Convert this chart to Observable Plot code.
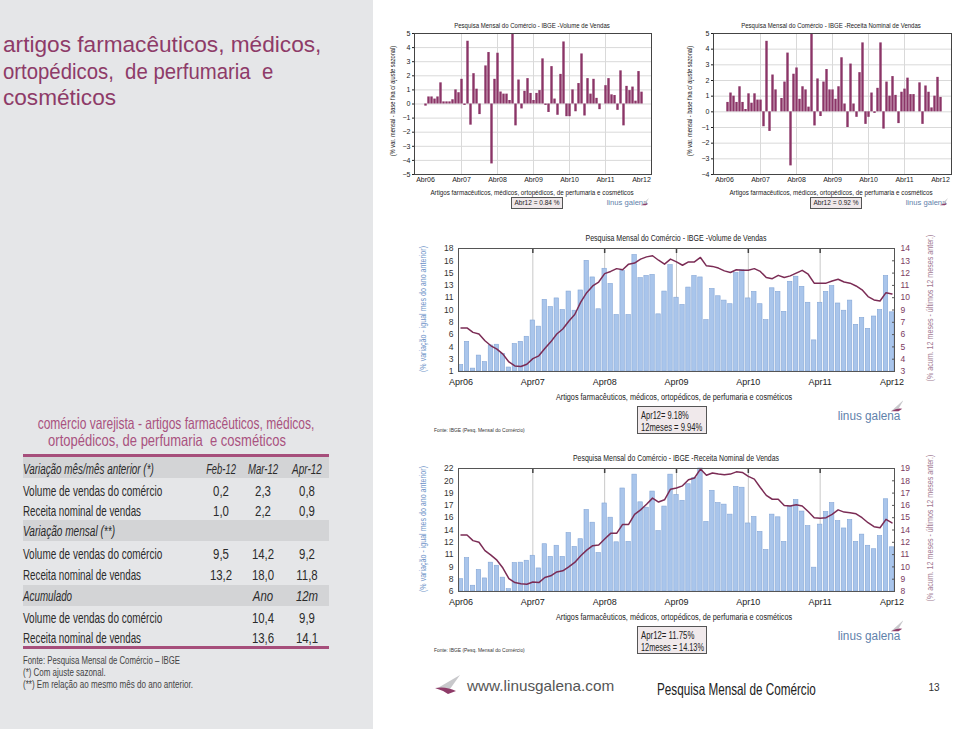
<!DOCTYPE html>
<html lang="pt"><head><meta charset="utf-8">
<script src="https://cdn.jsdelivr.net/npm/d3@7"></script>
<script src="https://cdn.jsdelivr.net/npm/@observablehq/plot@0.6"></script>
<style>
html,body{margin:0;padding:0;background:#fff;}
#page{position:relative;width:959px;height:729px;overflow:hidden;background:#fff;font-family:"Liberation Sans",Arial,sans-serif;}
#panel{position:absolute;left:0;top:0;width:373px;height:729px;background:#e5e6e8;}
.t{position:absolute;white-space:pre;line-height:1;}
.chart{position:absolute;}
.rect{position:absolute;box-sizing:border-box;}
</style></head><body><div id="page"><div id="panel"></div></div>
<script>
// ---------- DATA ----------
const mesesPt = ["Jan","Fev","Mar","Abr","Mai","Jun","Jul","Ago","Set","Out","Nov","Dez"];
const mesesEn = ["Jan","Feb","Mar","Apr","May","Jun","Jul","Aug","Sep","Oct","Nov","Dec"];
const startYear = 2006, startMonth = 3, nMonths = 73; // Apr 2006 .. Apr 2012
const xTicksPt = ["Abr06","Abr07","Abr08","Abr09","Abr10","Abr11","Abr12"];
const xTicksEn = ["Apr06","Apr07","Apr08","Apr09","Apr10","Apr11","Apr12"];

// month-on-month, seasonally adjusted (% var. mensal)
const volMoM = [-0.15,0.5,0.5,0.35,0.5,1.5,0.15,0.15,0.15,0.3,1.0,0.8,1.75,-0.1,4.45,-1.5,2.15,1.05,-0.75,0,
  2.7,3.65,-4.25,1.75,3.6,0.85,0.7,0.7,0.25,5.0,-1.55,1.7,-0.35,0.9,1.8,0.75,0.25,0.75,0.95,3.2,
  -0.1,-0.6,2.65,0.35,-0.8,2.1,4.4,-0.9,-0.9,1.0,-0.55,1.45,3.55,-0.85,1.8,0.7,1.75,0.4,-0.4,0,
  1.3,1.8,0.65,0.6,-0.45,2.35,-1.55,1.25,0.95,1.2,0.2,2.3,0.84];
const recMoM = [null,0.6,1.2,1.0,0.6,1.6,0.6,0.15,1.15,0.55,1.15,0.75,0.75,-0.95,4.5,-1.25,2.35,1.4,0,0.85,
  1.9,3.75,-3.45,2.4,2.8,0.8,1.6,1.4,0.3,5.0,-0.9,2.1,-0.3,1.9,2.7,1.4,1.4,0.8,1.6,3.45,
  0.5,-1.0,3.05,0.5,-0.35,2.5,4.4,-0.8,-0.35,1.2,-0.1,1.5,4.4,-1.1,1.9,1.0,2.25,1.05,-0.75,1.25,
  1.45,2.15,1.1,1.1,0,1.85,-0.8,1.65,1.25,0.25,1.0,2.2,0.92];
// year-on-year (bars) and 12-month accumulated (line)
const volYoY = [1.9,5.1,1.4,3.2,2.3,4.6,4.7,3.4,1.55,4.8,5.1,5.8,8.05,7.2,10.9,9.9,11.1,9.5,12.05,9.4,
  12.2,16.3,14.0,9.6,15.2,13.1,8.8,14.9,8.8,17.1,13.9,14.2,14.35,8.9,12.05,15.7,11.2,10.2,12.6,14.2,
  14.0,8.1,12.4,11.4,10.8,10.3,14.6,15.0,11.1,12.0,10.3,8.1,12.5,12.0,9.25,13.4,14.1,12.7,10.5,5.3,
  10.5,12.0,12.8,10.4,9.4,10.8,7.45,8.4,6.9,8.6,9.5,14.2,9.18];
const vol12m = [6.9,6.9,6.5,6.35,5.75,5.3,5.0,4.55,3.85,3.5,3.45,3.65,4.15,4.4,5.05,5.65,6.35,6.8,7.5,8.1,
  9.2,10.05,10.65,11.0,11.75,11.95,12.2,12.1,12.6,12.7,13.05,13.25,13.35,12.95,12.6,13.05,12.8,12.5,12.8,12.8,
  13.2,12.45,12.4,12.25,12.0,11.85,12.1,12.05,12.05,12.2,11.95,11.4,11.3,11.6,11.4,11.55,11.8,12.05,11.7,10.9,
  10.9,10.9,11.1,11.25,11.0,10.9,10.65,10.3,9.7,9.4,9.3,10.05,9.94];
const recYoY = [7.6,10.35,6.75,8.8,7.7,9.75,9.35,7.8,6.3,9.7,9.75,10.0,10.65,9.0,12.15,10.5,11.95,10.5,13.6,11.8,
  12.8,16.6,14.95,11.0,17.45,15.6,12.4,19.4,12.45,21.2,17.6,16.9,19.0,13.85,17.05,21.2,18.55,17.8,19.95,20.75,
  22.0,15.05,19.1,17.5,17.3,16.0,19.6,19.5,14.85,15.7,13.75,11.4,16.0,15.65,12.45,17.05,17.9,16.4,14.5,9.1,
  14.7,16.35,17.5,15.15,14.2,15.3,12.45,13.4,11.95,11.5,13.2,18.0,11.75];
const rec12m = [13.05,13.05,12.55,12.4,11.65,11.25,10.8,10.1,9.15,8.8,8.7,8.65,8.85,8.8,9.25,9.4,9.75,9.85,10.2,10.6,
  11.2,11.7,12.1,12.15,12.7,13.2,13.2,14.0,14.0,14.9,15.3,15.8,16.35,16.0,16.2,17.15,17.25,17.45,18.0,18.15,
  18.95,18.4,18.6,18.5,18.45,18.5,18.7,18.65,18.3,18.05,17.3,16.6,16.25,16.25,15.7,15.65,15.75,15.65,15.15,14.6,
  14.55,14.6,14.9,15.3,15.1,15.05,14.95,14.6,14.15,13.8,13.7,14.45,14.13];

const topYTicks1 = [-5,-4,-3,-2,-1,0,1,2,3,4,5];
const topYTicks2 = [-4,-3,-2,-1,0,1,2,3,4,5];
const volLeftTicks = [1,2.7,4.4,6.1,7.8,9.5,11.2,12.9,14.6,16.3,18];
const volRightTicks = [3,4.1,5.2,6.3,7.4,8.5,9.6,10.7,11.8,12.9,14];
const recLeftTicks = [6,7.6,9.2,10.8,12.4,14,15.6,17.2,18.8,20.4,22];
const recRightTicks = [8,9.1,10.2,11.3,12.4,13.5,14.6,15.7,16.8,17.9,19];

// table
const tableCols = ["Feb-12","Mar-12","Apr-12"];
const rowVol = "Volume de vendas do comércio", rowRec = "Receita nominal de vendas";
const momVol = ["0,2","2,3","0,8"], momRec = ["1,0","2,2","0,9"];
const yoyVol = ["9,5","14,2","9,2"], yoyRec = ["13,2","18,0","11,8"];
const accCols = ["Ano","12m"], accVol = ["10,4","9,9"], accRec = ["13,6","14,1"];

// ---------- helpers ----------
const monthKey = (names, i) => names[(startMonth + i) % 12] + String((startYear + Math.floor((startMonth + i) / 12)) % 100).padStart(2, "0");
const keysPt = d3.range(nMonths).map(i => monthKey(mesesPt, i));
const keysEn = d3.range(nMonths).map(i => monthKey(mesesEn, i));
const page = document.getElementById("page");
// text: x,y = anchor point / vertical centre; o.w = target width (horizontal squeeze), o.narrow = default squeeze
function T(x, y, s, o = {}) {
  const d = document.createElement("div");
  d.className = "t";
  d.textContent = s;
  d.style.left = x + "px"; d.style.top = y + "px";
  d.style.fontSize = (o.size || 10) + "px";
  d.style.color = o.color || "#222";
  if (o.italic) d.style.fontStyle = "italic";
  if (o.weight) d.style.fontWeight = o.weight;
  page.appendChild(d);
  let sx = o.narrow ? 0.76 : 1;
  if (o.w) sx = o.w / d.offsetWidth;
  const ax = o.anchor === "start" ? "0" : o.anchor === "end" ? "-100%" : "-50%";
  d.style.transformOrigin = o.anchor === "start" ? "0 50%" : o.anchor === "end" ? "100% 50%" : "50% 50%";
  d.style.transform = `translate(${ax},-50%)` + (o.rotate ? ` rotate(${o.rotate}deg)` : "") + ` scaleX(${sx})`;
  return d;
}
function R(x, y, w, h, bg, border) {
  const d = document.createElement("div");
  d.className = "rect";
  Object.assign(d.style, {left: x + "px", top: y + "px", width: w + "px", height: h + "px", background: bg || "transparent"});
  if (border) d.style.border = border;
  page.appendChild(d);
  return d;
}
function place(svg, x, y, w) {
  const d = document.createElement("div");
  d.className = "chart";
  Object.assign(d.style, {left: x + "px", top: y + "px", width: w + "px"});
  d.appendChild(svg);
  page.appendChild(d);
}
function logo(cx, cy, size, w) {
  T(cx, cy, "linus galena", {size, color: "#5f82ab", w});
  const d = document.createElement("div");
  d.className = "rect";
  const s = size * 1.0;
  Object.assign(d.style, {left: (cx + w / 2 - s * 0.8) + "px", top: (cy - size * 1.4) + "px", width: s + "px", height: s + "px"});
  d.innerHTML = `<svg width="${s}" height="${s}" viewBox="0 0 10 10"><path d="M0,9 L10,0 L6,7 Z" fill="#c9c9cc"/><path d="M0,9 Q5,6 9,7 L6,9 Z" fill="#8e3b68"/></svg>`;
  page.appendChild(d);
}

// ---------- top-left title ----------
const titleLines = ["artigos farmacêuticos, médicos,", "ortopédicos,  de perfumaria  e", "cosméticos"];
const titleW = [318, 270, 113];
titleLines.forEach((s, i) => T(3, 45 + i * 26.5, s, {size: 22, color: "#8e3b68", anchor: "start", w: titleW[i]}));

// ---------- top small charts ----------
function topChart(values, yTicks, left, width, mL, mR) {
  const data = values.map((v, i) => ({k: keysPt[i], v})).filter(d => d.v != null);
  return place(Plot.plot({
    width, height: 175, marginLeft: mL, marginRight: mR, marginTop: 15, marginBottom: 19,
    x: {type: "point", domain: keysPt, padding: 0},
    y: {domain: [yTicks[0], yTicks[yTicks.length - 1]]},
    style: {fontFamily: "Liberation Sans, Arial, sans-serif", fontSize: "7px", color: "#222", background: "transparent"},
    marks: [
      Plot.gridY(yTicks, {stroke: "#d9d9d9", strokeOpacity: 1}),
      Plot.gridX(xTicksPt.slice(1, -1), {stroke: "#d9d9d9", strokeOpacity: 1}),
      Plot.ruleX(data, {x: "k", y1: 0, y2: "v", stroke: "#8b3567", strokeWidth: 2.4}),
      Plot.frame({stroke: "#444"}),
      Plot.axisY(yTicks, {tickSize: 2, tickPadding: 2, label: null, fontSize: 7}),
      Plot.axisX(xTicksPt, {tickSize: 0, tickPadding: 3, label: null, fontSize: 7})
    ]
  }), left, 18, width);
}
topChart(volMoM, topYTicks1, 375, 290, 39, 14);
topChart(recMoM, topYTicks2, 665, 294, 48, 8);

const xTitle = "Artigos farmacêuticos, médicos, ortopédicos, de perfumaria e cosméticos";
const yTitleTop = "(% var. mensal - base fixa c/ ajuste sazonal)";
[[532, 393, "Pesquisa Mensal do Comércio - IBGE -Volume de Vendas", volMoM, 156],
 [831, 690, "Pesquisa Mensal do Comércio - IBGE -Receita Nominal de Vendas", recMoM, 180]]
  .forEach(([cx, ly, title, vals, tw]) => {
    T(cx, 25, title, {size: 7, w: tw});
    T(ly, 101, yTitleTop, {size: 6.5, rotate: -90, w: 110});
    T(cx, 192, xTitle, {size: 7, w: 203});
    R(cx - 21, 197, 52, 12, "#efe8ea", "1px solid #555");
    T(cx + 5, 203, `Abr12 = ${vals[vals.length - 1].toFixed(2)} %`, {size: 6.8, w: 45});
    logo(cx + 95, 203, 8, 41);
  });

// ---------- middle / bottom charts ----------
function midChart(bars, line, leftTicks, rightTicks, top) {
  const data = bars.map((v, i) => ({k: keysEn[i], v, c: line[i]}));
  const common = {width: 520, height: 165, marginLeft: 48, marginRight: 36, marginTop: 20, marginBottom: 22,
    x: {type: "band", domain: keysEn, paddingInner: 0.26, paddingOuter: 0.05}};
  place(Plot.plot({
    ...common,
    y: {domain: [leftTicks[0], leftTicks[leftTicks.length - 1]]},
    style: {fontFamily: "Liberation Sans, Arial, sans-serif", fontSize: "8.5px", color: "#333", background: "transparent"},
    marks: [
      Plot.gridX(xTicksEn.slice(1, -1), {stroke: "#c8c8c8", strokeOpacity: 1}),
      Plot.barY(data, {x: "k", y1: leftTicks[0], y2: "v", fill: "#a9c5eb", stroke: "#84a6d6", strokeWidth: 0.6}),
      Plot.frame({stroke: "#555"}),
      Plot.axisX(xTicksEn.slice(1, -1), {anchor: "top", tickSize: -4, tickFormat: () => "", label: null, stroke: "#444", strokeWidth: 1.5}),
      Plot.axisY(leftTicks, {tickSize: 0, tickPadding: 5, label: null, fontSize: 8.5}),
      Plot.axisX(xTicksEn, {tickSize: 0, tickPadding: 7, label: null, fontSize: 9, color: "#222"})
    ]
  }), 410, top, 520);
  place(Plot.plot({
    ...common,
    x: {...common.x, axis: null},
    y: {domain: [rightTicks[0], rightTicks[rightTicks.length - 1]]},
    style: {fontFamily: "Liberation Sans, Arial, sans-serif", fontSize: "8.5px", background: "transparent"},
    marks: [
      Plot.line(data, {x: "k", y: "c", stroke: "#7b2c55", strokeWidth: 1.5}),
      Plot.axisY(rightTicks, {anchor: "right", tickSize: -3, tickFormat: () => "", label: null, stroke: "#555"}),
      Plot.axisY(rightTicks, {anchor: "right", tickSize: 0, tickPadding: 6, label: null, fontSize: 8.5, color: "#7b3a5e"})
    ]
  }), 410, top, 520);
}
midChart(volYoY, vol12m, volLeftTicks, volRightTicks, 228);
midChart(recYoY, rec12m, recLeftTicks, recRightTicks, 448);

[[0, "Pesquisa Mensal do Comércio - IBGE -Volume de Vendas", volYoY, vol12m, [48, 61]],
 [220, "Pesquisa Mensal do Comércio - IBGE -Receita Nominal de Vendas", recYoY, rec12m, [53, 63]]]
  .forEach(([dy, title, b, l, bw]) => {
    T(676, 238 + dy, title, {size: 9.5, w: dy ? 206 : 181});
    T(423, 309 + dy, "(% variação - igual mes do ano anterior)", {size: 9.5, color: "#6d93c8", rotate: -90, w: 126});
    T(930, 308 + dy, "(% acum. 12 meses - últimos 12 meses anter.)", {size: 9.5, color: "#a27a92", rotate: -90, w: 147});
    T(674, 398 + dy, xTitle, {size: 9.2, w: 236});
    R(637, 406 + dy, 70, 28, "#f0e9eb", "1px solid #555");
    T(641, 416 + dy, `Apr12= ${b[b.length - 1].toFixed(2)}%`, {size: 10, anchor: "start", w: bw[0]});
    T(641, 427.5 + dy, `12meses = ${l[l.length - 1].toFixed(2)}%`, {size: 10, anchor: "start", w: bw[1]});
    T(434, 430 + dy, "Fonte: IBGE (Pesq. Mensal do Comércio)", {size: 6, anchor: "start", color: "#333", w: 91});
    logo(869, 416 + dy, 12.5, 63);
  });

// ---------- left table ----------
const tColor = "#a9527f";
T(176, 423, "comércio varejista - artigos farmacêuticos, médicos,", {size: 16.5, color: tColor, w: 277});
T(167, 440, "ortopédicos, de perfumaria  e cosméticos", {size: 16.5, color: tColor, w: 238});
R(23, 454, 306, 2.5, "#a64e7b");
R(23, 456.5, 306, 21.5, "#d3d4d6");
R(23, 520, 306, 20.5, "#d3d4d6");
R(23, 585, 306, 20.5, "#d3d4d6");
R(23, 646, 306, 2.5, "#a64e7b");
const colX = [221, 263, 307];
const fs = 15, tc = "#2b2b2b";
const lab = (y, s, w, italic) => T(23, y, s, {size: fs, italic, anchor: "start", color: tc, w});
const val = (x, y, s, italic) => T(x, y, s, {size: fs, italic, color: tc, narrow: true});
lab(468, "Variação mês/mês anterior (*)", 131, true);
tableCols.forEach((c, j) => T(colX[j], 468, c, {size: fs, italic: true, color: tc, w: 30}));
lab(490, rowVol, 139); momVol.forEach((v, j) => val(colX[j], 490, v));
lab(510, rowRec, 118); momRec.forEach((v, j) => val(colX[j], 510, v));
lab(530, "Variação mensal (**)", 92, true);
lab(553, rowVol, 139); yoyVol.forEach((v, j) => val(colX[j], 553, v));
lab(574, rowRec, 118); yoyRec.forEach((v, j) => val(colX[j], 574, v));
lab(595, "Acumulado", 49, true);
accCols.forEach((c, j) => val(colX[j + 1], 595, c, true));
lab(617, rowVol, 139); accVol.forEach((v, j) => val(colX[j + 1], 617, v));
lab(637, rowRec, 118); accRec.forEach((v, j) => val(colX[j + 1], 637, v));
T(23, 661, "Fonte: Pesquisa Mensal de Comércio – IBGE", {size: 11.5, anchor: "start", color: "#444", w: 157});
T(23, 673, "(*) Com ajuste sazonal.", {size: 11.5, anchor: "start", color: "#444", w: 83});
T(23, 685, "(**) Em relação ao mesmo mês do ano anterior.", {size: 11.5, anchor: "start", color: "#444", w: 170});

// ---------- footer ----------
const ic = document.createElement("div");
ic.className = "rect";
Object.assign(ic.style, {left: "434px", top: "673px", width: "28px", height: "22px"});
ic.innerHTML = `<svg width="28" height="22" viewBox="0 0 28 22"><path d="M2,16 L26,2 L16,16 Z" fill="#c8c8cb"/><path d="M1,15 Q12,13 22,18 L14,21 Q8,17 1,15 Z" fill="#8e3b68"/></svg>`;
page.appendChild(ic);
T(467, 685, "www.linusgalena.com", {size: 15, anchor: "start", color: "#555", w: 147});
T(657, 689, "Pesquisa Mensal de Comércio", {size: 16.5, anchor: "start", color: "#222", w: 159});
T(934, 688, "13", {size: 10, color: "#333"});
</script></body></html>
